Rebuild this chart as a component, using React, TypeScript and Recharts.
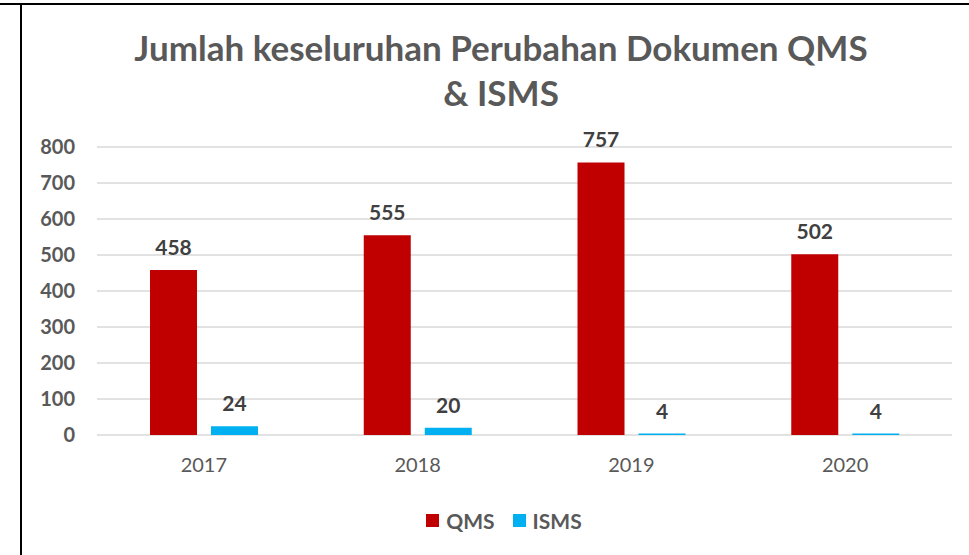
import { BarChart, Bar, XAxis, YAxis, CartesianGrid, Legend, LabelList } from 'recharts'

const years = ['2017', '2018', '2019', '2020']
const qms = [458, 555, 757, 502]
const isms = [24, 20, 4, 4]
const yTicks = [0, 100, 200, 300, 400, 500, 600, 700, 800]

const titleLines = ['Jumlah keseluruhan Perubahan Dokumen QMS', '& ISMS']

const QMS_COLOR = '#C00000'
const ISMS_COLOR = '#00B0F0'
const FONT = 'Lato, "Open Sans", sans-serif'

function LegendBox() {
  const items = [
    { name: 'QMS', color: QMS_COLOR },
    { name: 'ISMS', color: ISMS_COLOR },
  ]
  return (
    <div style={{ display: 'flex', justifyContent: 'center', alignItems: 'center', paddingLeft: 74, height: 30 }}>
      {items.map(it => (
        <div key={it.name} style={{ display: 'flex', alignItems: 'center', marginRight: 18 }}>
          <span style={{ width: 13, height: 13, background: it.color, display: 'inline-block', marginRight: 7 }} />
          <span style={{ fontFamily: FONT, fontWeight: 700, fontSize: 21, color: '#595959' }}>{it.name}</span>
        </div>
      ))}
    </div>
  )
}

export default function App() {
  const data = years.map((year, i) => ({ year, qms: qms[i], isms: isms[i] }))

  return (
    <div style={{ position: 'relative', width: 969, height: 555, background: '#fff', fontFamily: FONT }}>
      <style>{'body{margin:0}'}</style>
      <div style={{ position: 'absolute', left: 0, top: 3, width: 969, height: 2, background: '#000' }} />
      <div style={{ position: 'absolute', left: 20, top: 3, width: 2, height: 552, background: '#000' }} />
      <div
        style={{
          position: 'absolute',
          left: 0,
          top: 25,
          width: 1002,
          textAlign: 'center',
          fontWeight: 700,
          fontSize: 35,
          lineHeight: '45px',
          color: '#595959',
        }}
      >
        {titleLines.map(t => (
          <div key={t}>{t}</div>
        ))}
      </div>
      <BarChart
        width={969}
        height={555}
        data={data}
        margin={{ top: 147, right: 17, left: 0, bottom: 20 }}
        barCategoryGap="24.8%"
        barGap={14}
      >
        <CartesianGrid vertical={false} stroke="#D9D9D9" strokeWidth={1.5} />
        <XAxis
          dataKey="year"
          axisLine={false}
          tickLine={false}
          height={70}
          tickMargin={17}
          tick={{ fill: '#595959', fontSize: 20, fontFamily: FONT }}
        />
        <YAxis
          width={97}
          domain={[0, 800]}
          ticks={yTicks}
          axisLine={false}
          tickLine={false}
          tickMargin={16}
          tick={{ fill: '#595959', fontSize: 20, fontWeight: 700, fontFamily: FONT }}
        />
        <Legend verticalAlign="bottom" height={30} content={() => <LegendBox />} />
        <Bar dataKey="qms" name="QMS" fill={QMS_COLOR} isAnimationActive={false}>
          <LabelList dataKey="qms" position="top" offset={15} fill="#404040" fontSize={21} fontWeight={700} fontFamily={FONT} />
        </Bar>
        <Bar dataKey="isms" name="ISMS" fill={ISMS_COLOR} isAnimationActive={false}>
          <LabelList dataKey="isms" position="top" offset={15} fill="#404040" fontSize={21} fontWeight={700} fontFamily={FONT} />
        </Bar>
      </BarChart>
    </div>
  )
}
